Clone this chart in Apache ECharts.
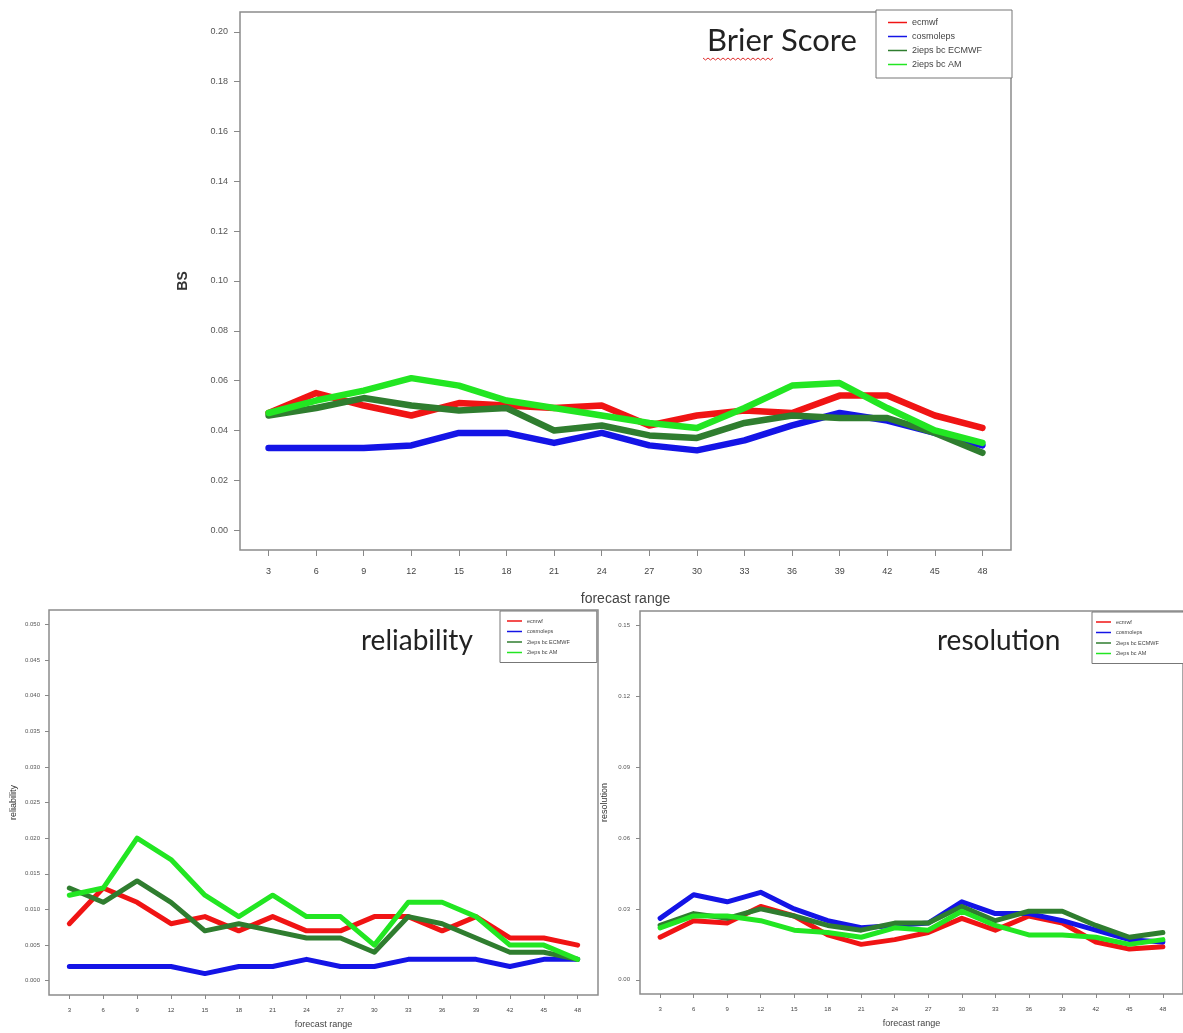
<!DOCTYPE html>
<html>
<head>
<meta charset="utf-8">
<script src="https://cdn.jsdelivr.net/npm/echarts@6/dist/echarts.min.js"></script>
<style>
html,body{margin:0;padding:0;background:#fff;}
#chart{width:1183px;height:1033px;}
</style>
</head>
<body>
<div id="chart"></div>
<script>
// ---- data ----
var forecastRange = [3, 6, 9, 12, 15, 18, 21, 24, 27, 30, 33, 36, 39, 42, 45, 48];
var seriesNames = ['ecmwf', 'cosmoleps', '2ieps bc ECMWF', '2ieps bc AM'];

// Brier Score
var bsEcmwf   = [0.047, 0.055, 0.050, 0.046, 0.051, 0.050, 0.049, 0.050, 0.042, 0.046, 0.048, 0.047, 0.054, 0.054, 0.046, 0.041];
var bsCosmo   = [0.033, 0.033, 0.033, 0.034, 0.039, 0.039, 0.035, 0.039, 0.034, 0.032, 0.036, 0.042, 0.047, 0.044, 0.039, 0.034];
var bsEcmwfBc = [0.046, 0.049, 0.053, 0.050, 0.048, 0.049, 0.040, 0.042, 0.038, 0.037, 0.043, 0.046, 0.045, 0.045, 0.039, 0.031];
var bsAm      = [0.047, 0.052, 0.056, 0.061, 0.058, 0.052, 0.049, 0.046, 0.043, 0.041, 0.049, 0.058, 0.059, 0.049, 0.040, 0.035];

// reliability
var relEcmwf   = [0.008, 0.013, 0.011, 0.008, 0.009, 0.007, 0.009, 0.007, 0.007, 0.009, 0.009, 0.007, 0.009, 0.006, 0.006, 0.005];
var relCosmo   = [0.002, 0.002, 0.002, 0.002, 0.001, 0.002, 0.002, 0.003, 0.002, 0.002, 0.003, 0.003, 0.003, 0.002, 0.003, 0.003];
var relEcmwfBc = [0.013, 0.011, 0.014, 0.011, 0.007, 0.008, 0.007, 0.006, 0.006, 0.004, 0.009, 0.008, 0.006, 0.004, 0.004, 0.003];
var relAm      = [0.012, 0.013, 0.020, 0.017, 0.012, 0.009, 0.012, 0.009, 0.009, 0.005, 0.011, 0.011, 0.009, 0.005, 0.005, 0.003];

// resolution
var resEcmwf   = [0.018, 0.025, 0.024, 0.031, 0.027, 0.019, 0.015, 0.017, 0.020, 0.026, 0.021, 0.027, 0.024, 0.016, 0.013, 0.014];
var resCosmo   = [0.026, 0.036, 0.033, 0.037, 0.030, 0.025, 0.022, 0.023, 0.024, 0.033, 0.028, 0.028, 0.025, 0.021, 0.017, 0.016];
var resEcmwfBc = [0.023, 0.028, 0.026, 0.030, 0.027, 0.023, 0.021, 0.024, 0.024, 0.031, 0.025, 0.029, 0.029, 0.023, 0.018, 0.020];
var resAm      = [0.022, 0.027, 0.027, 0.025, 0.021, 0.020, 0.018, 0.022, 0.021, 0.029, 0.023, 0.019, 0.019, 0.018, 0.015, 0.017];

// tick labels
var bsTicks  = [0.00, 0.02, 0.04, 0.06, 0.08, 0.10, 0.12, 0.14, 0.16, 0.18, 0.20];
var relTicks = [0.000, 0.005, 0.010, 0.015, 0.020, 0.025, 0.030, 0.035, 0.040, 0.045, 0.050];
var resTicks = [0.00, 0.03, 0.06, 0.09, 0.12, 0.15];

// ---- styling ----
var colors = ['#f01414', '#1414e6', '#2f7d2f', '#22e622'];
var narrow = "'Liberation Sans Narrow','Liberation Sans',Arial,sans-serif";
var sans = "'Liberation Sans',Arial,sans-serif";
var titleFont = "Lato,'Open Sans',sans-serif";

function pad(ticks) {
  var lo = ticks[0], hi = ticks[ticks.length - 1];
  var p = (hi - lo) * 0.04;
  return [lo - p, hi + p];
}
var xPad = pad(forecastRange);

function pairs(arr) {
  return forecastRange.map(function (x, i) { return [x, arr[i]]; });
}

function xAxis(gi, labelSize, margin, nameSize, nameGap, tickLen) {
  return {
    type: 'value', gridIndex: gi, min: xPad[0], max: xPad[1], position: 'bottom',
    axisLine: { show: false, onZero: false },
    splitLine: { show: false },
    axisTick: { show: true, customValues: forecastRange, length: tickLen, lineStyle: { color: '#888', width: 1 } },
    axisLabel: { customValues: forecastRange, fontSize: labelSize, margin: margin, color: '#444', fontFamily: narrow },
    name: 'forecast range', nameLocation: 'middle', nameGap: nameGap,
    nameTextStyle: { fontSize: nameSize, color: '#444', fontFamily: narrow }
  };
}
function yAxis(gi, ticks, dec, labelSize, margin, name, nameSize, nameGap, tickLen, bold) {
  var r = pad(ticks);
  return {
    type: 'value', gridIndex: gi, min: r[0], max: r[1], position: 'left',
    axisLine: { show: false, onZero: false },
    splitLine: { show: false },
    axisTick: { show: true, customValues: ticks, length: tickLen, lineStyle: { color: '#888', width: 1 } },
    axisLabel: { customValues: ticks, fontSize: labelSize, margin: margin, color: '#555', fontFamily: narrow,
      formatter: function (v) { return Number(v).toFixed(dec); } },
    name: name, nameLocation: 'middle', nameRotate: 90, nameGap: nameGap,
    nameTextStyle: { fontSize: nameSize, color: '#333', fontFamily: sans, fontWeight: bold ? 'bold' : 'normal' }
  };
}

var sets = [
  [bsEcmwf, bsCosmo, bsEcmwfBc, bsAm],
  [relEcmwf, relCosmo, relEcmwfBc, relAm],
  [resEcmwf, resCosmo, resEcmwfBc, resAm]
];
var widths = [6.5, 5, 5];
var series = [];
sets.forEach(function (set, gi) {
  set.forEach(function (arr, si) {
    series.push({
      type: 'line', name: seriesNames[si], xAxisIndex: gi, yAxisIndex: gi,
      data: pairs(arr), symbol: 'none', silent: true,
      lineStyle: { color: colors[si], width: widths[gi], join: 'round', cap: 'round' },
      itemStyle: { color: colors[si] }
    });
  });
});

function legend(left, top, fontSize, lineH, gap, iconW, padding) {
  return {
    orient: 'vertical', left: left, top: top,
    data: seriesNames,
    icon: 'rect', itemWidth: iconW, itemHeight: 1.5, itemGap: gap,
    backgroundColor: '#fff',
    borderColor: '#777', borderWidth: 1, borderRadius: 0, padding: padding,
    selectedMode: false,
    textStyle: { fontSize: fontSize, lineHeight: lineH, color: '#444', fontFamily: narrow }
  };
}

// squiggle under "Brier" (spell-check decoration)
var sq = [];
for (var k = 0; k <= 28; k++) { sq.push([703 + k * 2.5, 58 + (k % 2 ? 2 : 0)]); }

var chart = echarts.init(document.getElementById('chart'), null, { renderer: 'canvas' });
chart.setOption({
  animation: false,
  backgroundColor: '#fff',
  color: colors,
  title: [
    { text: 'Brier Score', left: 702, top: 20, textStyle: { fontFamily: titleFont, fontSize: 31, fontWeight: 'normal', color: '#222' } },
    { text: 'reliability', left: 356, top: 622, textStyle: { fontFamily: titleFont, fontSize: 28, fontWeight: 'normal', color: '#222' } },
    { text: 'resolution', left: 932, top: 622, textStyle: { fontFamily: titleFont, fontSize: 28, fontWeight: 'normal', color: '#222' } }
  ],
  legend: [
    legend(876, 10, 9, 11, 3, 19, [7, 30, 8, 12]),
    legend(500, 611, 5.5, 8, 2.5, 15, [6, 27, 6, 7]),
    legend(1092, 612, 5.5, 8, 2.5, 15, [6, 26, 6, 4])
  ],
  grid: [
    { left: 240, top: 12, width: 771, height: 538, show: true, borderColor: '#8c8c8c', borderWidth: 1.5, backgroundColor: 'transparent' },
    { left: 49, top: 610, width: 549, height: 385, show: true, borderColor: '#8c8c8c', borderWidth: 1.5, backgroundColor: 'transparent' },
    { left: 640, top: 611, width: 548, height: 383, show: true, borderColor: '#8c8c8c', borderWidth: 1.5, backgroundColor: 'transparent' }
  ],
  xAxis: [
    xAxis(0, 9, 17, 14, 42, 6),
    xAxis(1, 6, 12, 9, 25, 4),
    xAxis(2, 6, 12, 9, 25, 4)
  ],
  yAxis: [
    yAxis(0, bsTicks, 2, 9, 12, 'BS', 14, 50, 6, true),
    yAxis(1, relTicks, 3, 6, 9, 'reliability', 9, 31, 4, false),
    yAxis(2, resTicks, 2, 6, 10, 'resolution', 9, 31, 4, false)
  ],
  graphic: [
    { type: 'polyline', silent: true, shape: { points: sq }, style: { stroke: '#e03030', lineWidth: 1, fill: null } }
  ],
  series: series
});
</script>
</body>
</html>
